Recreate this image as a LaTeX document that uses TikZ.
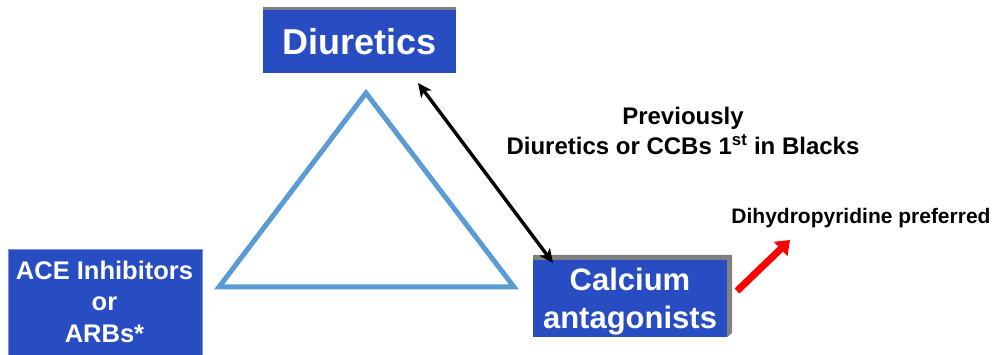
\documentclass[tikz,border=0pt]{standalone}
\usepackage{fontspec}
\setmainfont{Liberation Sans}
\usetikzlibrary{arrows.meta}
\definecolor{boxblue}{RGB}{40,76,194}
\definecolor{tri}{RGB}{91,155,213}
\definecolor{bevel}{RGB}{128,128,128}
\begin{document}
\begin{tikzpicture}[x=1pt,y=-1pt,
  box/.style={fill=boxblue, inner sep=0pt, outer sep=0pt},
  wtext/.style={text=white, font=\bfseries, anchor=base, align=center, inner sep=0pt},
  lbl/.style={font=\bfseries, anchor=base, align=center, inner sep=0pt}]
\useasboundingbox (0,0) rectangle (996,355);
% triangle
\draw[tri, line width=5pt, line join=miter] (366,93) -- (514,287) -- (219,287) -- cycle;
% Diuretics box
\fill[bevel] (263,7) rectangle (456,11);
\node[box, minimum width=193pt, minimum height=63pt] (diur) at (359.5,42) {};
\node[wtext, font=\bfseries\fontsize{36}{40}\selectfont] (diurt) at (359.5,55) {Diuretics};
% ACE box
\node[box, draw=boxblue!60!white, line width=1pt, minimum width=194pt, minimum height=105pt] (ace) at (105,302.5) {};
\node[wtext, font=\bfseries\fontsize{25.5}{31.5}\selectfont] (acet) at (104.5,342) {ACE Inhibitors\\or\\ARBs*};
% Calcium box
\fill[bevel] (533,255) -- (732,255) -- (732,333) -- (727,337) -- (727,260) -- (533,260) -- cycle;
\node[box, minimum width=194pt, minimum height=77pt] (calc) at (630,298.5) {};
\node[wtext, font=\bfseries\fontsize{31}{38}\selectfont] (calct) at (630,328) {Calcium\\antagonists};
% black double arrow
\coordinate (a1) at (418,83);
\coordinate (a2) at (553,263);
\draw[{Stealth[length=14pt,width=13pt,inset=4pt]}-{Stealth[length=14pt,width=13pt,inset=4pt]}, line width=3.4pt] (a1) -- (a2);
% labels
\node[lbl, font=\bfseries\fontsize{24}{30}\selectfont] (prev) at (683,155) {Previously\\Diuretics or CCBs 1\textsuperscript{st} in Blacks};
\node[lbl, font=\bfseries\fontsize{21}{25}\selectfont] (dhp) at (861,224) {Dihydropyridine preferred};
% red arrow
\coordinate (r1) at (737,291);
\coordinate (r2) at (790,240);
\draw[red, line width=7pt, -{Triangle[length=13pt,width=19pt]}] (r1) -- (r2);
\end{tikzpicture}
\end{document}
